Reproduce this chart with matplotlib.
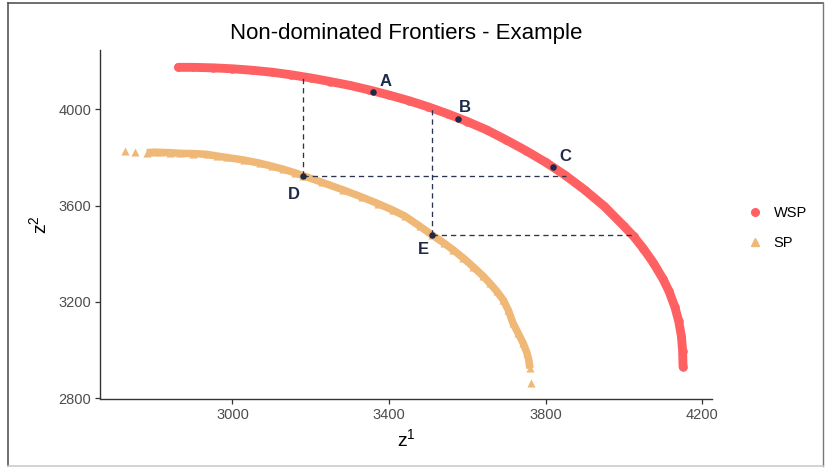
import numpy as np
import matplotlib
matplotlib.use("Agg")
import matplotlib.pyplot as plt
from matplotlib.lines import Line2D

plt.rcParams['font.family'] = ['Liberation Sans', 'DejaVu Sans']

# ---- data ----
wsp_x = [2862, 2900, 2950, 3000, 3050, 3100, 3150, 3200, 3250, 3300, 3350, 3400,
         3450, 3500, 3550, 3600, 3650, 3700, 3750, 3800, 3850, 3900, 3950, 4000,
         4025, 4050, 4075, 4100, 4115, 4130, 4140, 4147, 4150, 4151]
wsp_y = [4174, 4174, 4172, 4168, 4162, 4154, 4143, 4130, 4115, 4099, 4080, 4059,
         4036, 4010, 3981, 3949, 3914, 3872, 3828, 3780, 3726, 3665, 3597, 3515,
         3472, 3421, 3363, 3295, 3245, 3180, 3120, 3056, 2995, 2931]

sp_x = [2726, 2750, 2781, 2800, 2815, 2840, 2866, 2900, 2934, 2960, 2985, 3030,
        3070, 3100, 3130, 3160, 3181, 3230, 3283, 3330, 3372, 3410, 3440, 3479,
        3510, 3540, 3564, 3590, 3615, 3640, 3658, 3675, 3692, 3705, 3717, 3730,
        3743, 3752, 3757, 3760, 3762]
sp_y = [3826, 3824, 3820, 3822, 3821, 3820, 3817, 3816, 3813, 3806, 3800, 3789,
        3776, 3764, 3751, 3736, 3724, 3696, 3665, 3636, 3608, 3581, 3557, 3514,
        3478, 3445, 3416, 3382, 3346, 3308, 3277, 3245, 3208, 3165, 3111, 3070,
        3028, 2990, 2959, 2924, 2862]

pt_labels = ['A', 'B', 'C', 'D', 'E']
pt_x = [3360, 3575, 3818, 3181, 3510]
pt_y = [4073, 3958, 3759, 3724, 3478]
lab_x = [3392, 3594, 3850, 3158, 3487]
lab_y = [4117, 4007, 3803, 3648, 3419]

series_names = ['WSP', 'SP']
x_ticks = [3000, 3400, 3800, 4200]
y_ticks = [2800, 3200, 3600, 4000]

RED = '#FF6163'
ORANGE = '#EFB877'
NAVY = '#1E2A47'

fig = plt.figure(figsize=(8.28, 4.70), dpi=100)
ax = fig.add_axes([100.5 / 828, 1 - 399.3 / 470, (712 - 100.5) / 828, (399.3 - 50) / 470])

# WSP frontier
ax.plot(wsp_x, wsp_y, color=RED, lw=6.4, solid_capstyle='round', zorder=2)
ax.scatter(wsp_x, wsp_y, s=38, color=RED, marker='o', linewidths=0, zorder=2)

# SP frontier (body as thick band, isolated triangles at ends)
ax.plot(sp_x[2:-1], sp_y[2:-1], color=ORANGE, lw=5.4, solid_capstyle='butt', zorder=2)
ax.scatter(sp_x, sp_y, s=34, color=ORANGE, marker='^', linewidths=0, zorder=2)

# dashed projection lines from D and E to the WSP frontier
wx = np.array(wsp_x, dtype=float)
wy = np.array(wsp_y, dtype=float)
for i in (3, 4):
    px, py = pt_x[i], pt_y[i]
    y_on = np.interp(px, wx, wy)
    x_on = np.interp(py, wy[::-1], wx[::-1])
    ax.plot([px, px], [py, y_on], ls=(0, (4, 3)), color='#2B3350', lw=0.95, zorder=3)
    ax.plot([px, x_on], [py, py], ls=(0, (4, 3)), color='#2B3350', lw=0.95, zorder=3)

ax.scatter(pt_x, pt_y, s=22, color=NAVY, zorder=4, linewidths=0)
for t, lx, ly in zip(pt_labels, lab_x, lab_y):
    ax.text(lx, ly, t, color=NAVY, fontsize=12, fontweight='bold', ha='center', va='center', zorder=5)

ax.set_xlim(2663, 4225)
ax.set_ylim(2796, 4246)
ax.set_xticks(x_ticks)
ax.set_yticks(y_ticks)
ax.tick_params(axis='both', colors='#333333', labelcolor='#4D4D4D', labelsize=10.5,
               length=3.5, width=0.9, direction='out', pad=3)
for s in ('top', 'right'):
    ax.spines[s].set_visible(False)
for s in ('left', 'bottom'):
    ax.spines[s].set_color('#333333')
    ax.spines[s].set_linewidth(1.0)

ax.set_title('Non-dominated Frontiers - Example', fontsize=16, color='black', pad=8)
ax.set_xlabel(r'$\mathregular{z^1}$', fontsize=14, labelpad=4)
ax.set_ylabel(r'$\mathregular{z^2}$', fontsize=14, labelpad=6)

handles = [Line2D([], [], ls='none', marker='o', color=RED, markersize=5.5),
           Line2D([], [], ls='none', marker='^', color=ORANGE, markersize=5.5)]
fig.legend(handles, series_names, loc='center left', bbox_to_anchor=(733 / 828, 1 - 228 / 470),
           frameon=False, fontsize=10.5, handlelength=1.2, handletextpad=0.7, labelspacing=1.1)

# outer frame of the picture
fig.add_artist(Line2D([8 / 828, 8 / 828], [4 / 470, 467 / 470], color='#555555', lw=1.2, transform=fig.transFigure))
fig.add_artist(Line2D([8 / 828, 823 / 828], [467 / 470, 467 / 470], color='#555555', lw=1.2, transform=fig.transFigure))
fig.add_artist(Line2D([823 / 828, 823 / 828], [4 / 470, 467 / 470], color='#777777', lw=1.0, transform=fig.transFigure))
fig.add_artist(Line2D([8 / 828, 823 / 828], [4 / 470, 4 / 470], color='#cccccc', lw=1.2, transform=fig.transFigure))

fig.savefig('out.png', dpi=100)
